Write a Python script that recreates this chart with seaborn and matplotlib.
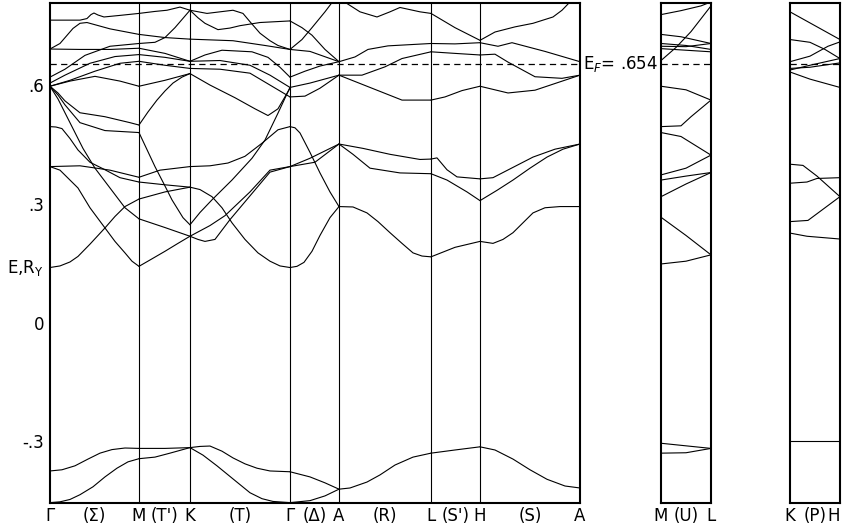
import matplotlib
matplotlib.use("Agg")
import matplotlib.pyplot as plt
import matplotlib.transforms as mtransforms
import pandas as pd
import seaborn as sns

# Symmetry points along the main path (k in path-length units)
main_k = [0, 89, 140, 240, 289, 381, 430, 530]
main_labels = ["Γ", "M", "K", "Γ", "A", "L", "H", "A"]
line_labels = ["(Σ)", "(T')", "(T)", "(Δ)", "(R)", "(S')", "(S)"]

side_k = [0, 50]
ml_labels = ["M", "(U)", "L"]
kh_labels = ["K", "(P)", "H"]

e_fermi = 0.654
y_ticks = [0.6, 0.3, 0.0, -0.3]
y_ticklabels = [".6", ".3", "0", "-.3"]

# Bands, one list of (k, E) per band, per segment
gamma_m = [
    [(0, 0.764), (30, 0.764), (37, 0.768), (41, 0.778), (44, 0.782), (48, 0.777), (54, 0.772), (70, 0.776), (89, 0.781)],
    [(0, 0.691), (10, 0.705), (23, 0.743), (30, 0.756), (37, 0.758), (60, 0.742), (89, 0.728)],
    [(0, 0.691), (30, 0.690), (60, 0.690), (89, 0.693)],
    [(0, 0.620), (15, 0.640), (35, 0.675), (60, 0.698), (89, 0.705)],
    [(0, 0.605), (15, 0.625), (40, 0.655), (65, 0.672), (89, 0.677)],
    [(0, 0.597), (20, 0.612), (45, 0.635), (70, 0.655), (89, 0.660)],
    [(0, 0.597), (20, 0.610), (45, 0.622), (70, 0.610), (89, 0.597)],
    [(0, 0.597), (8, 0.580), (15, 0.560), (30, 0.530), (55, 0.520), (80, 0.505), (89, 0.499)],
    [(0, 0.597), (8, 0.575), (15, 0.550), (30, 0.505), (55, 0.485), (89, 0.480)],
    [(0, 0.597), (8, 0.565), (15, 0.530), (25, 0.480), (33, 0.440), (45, 0.390), (60, 0.340), (75, 0.290), (89, 0.262)],
    [(0, 0.495), (6, 0.494), (12, 0.490), (20, 0.465), (28, 0.436), (40, 0.405), (55, 0.386), (70, 0.366), (89, 0.355)],
    [(0, 0.394), (30, 0.396), (60, 0.385), (89, 0.367)],
    [(0, 0.394), (10, 0.385), (20, 0.360), (28, 0.340), (40, 0.290), (55, 0.239), (65, 0.205), (75, 0.176), (82, 0.155), (89, 0.142)],
    [(0, 0.139), (10, 0.143), (20, 0.153), (28, 0.167), (40, 0.198), (55, 0.239), (65, 0.268), (75, 0.293), (89, 0.312)],
    [(0, -0.375), (12, -0.372), (25, -0.362), (38, -0.345), (50, -0.330), (62, -0.321), (75, -0.317), (89, -0.318)],
    [(0, -0.455), (10, -0.453), (20, -0.447), (30, -0.435), (43, -0.415), (55, -0.390), (67, -0.368), (78, -0.352), (89, -0.344)],
]

m_k = [
    [(89, 0.781), (105, 0.786), (117, 0.789), (130, 0.797), (140, 0.789)],
    [(89, 0.728), (115, 0.720), (140, 0.716)],
    [(89, 0.705), (105, 0.708), (115, 0.720), (125, 0.745), (140, 0.789)],
    [(89, 0.693), (115, 0.680), (140, 0.660)],
    [(89, 0.677), (115, 0.670), (140, 0.660)],
    [(89, 0.660), (115, 0.650), (140, 0.642)],
    [(89, 0.597), (115, 0.612), (140, 0.629)],
    [(89, 0.499), (98, 0.532), (107, 0.562), (115, 0.585), (123, 0.605), (132, 0.620), (140, 0.629)],
    [(89, 0.480), (97, 0.437), (105, 0.394), (114, 0.350), (122, 0.310), (133, 0.265), (140, 0.247)],
    [(89, 0.367), (110, 0.385), (140, 0.394)],
    [(89, 0.355), (115, 0.348), (140, 0.342)],
    [(89, 0.312), (115, 0.330), (140, 0.342)],
    [(89, 0.262), (115, 0.240), (140, 0.218)],
    [(89, 0.142), (100, 0.158), (115, 0.180), (128, 0.200), (140, 0.218)],
    [(89, -0.318), (115, -0.318), (140, -0.316)],
    [(89, -0.344), (105, -0.340), (120, -0.330), (140, -0.316)],
]

k_gamma = [
    [(140, 0.789), (157, 0.781), (170, 0.785), (183, 0.789), (193, 0.781), (200, 0.760), (210, 0.731), (220, 0.712), (228, 0.700), (240, 0.690)],
    [(140, 0.789), (148, 0.770), (155, 0.756), (168, 0.740), (180, 0.744), (190, 0.750), (210, 0.758), (240, 0.762)],
    [(140, 0.716), (183, 0.712), (215, 0.700), (240, 0.690)],
    [(140, 0.660), (155, 0.676), (172, 0.688), (202, 0.684), (218, 0.670), (230, 0.645), (240, 0.620)],
    [(140, 0.660), (170, 0.662), (200, 0.650), (220, 0.625), (240, 0.594)],
    [(140, 0.642), (170, 0.640), (200, 0.630), (220, 0.600), (240, 0.570)],
    [(140, 0.629), (160, 0.600), (185, 0.568), (205, 0.540), (218, 0.523), (228, 0.540), (240, 0.592)],
    [(140, 0.247), (150, 0.278), (162, 0.310), (182, 0.360), (202, 0.415), (215, 0.461), (228, 0.529), (240, 0.594)],
    [(140, 0.394), (160, 0.396), (178, 0.403), (195, 0.420), (212, 0.453), (228, 0.487), (240, 0.495)],
    [(140, 0.342), (150, 0.336), (162, 0.318), (172, 0.290), (182, 0.252), (195, 0.210), (208, 0.176), (220, 0.155), (230, 0.143), (240, 0.139)],
    [(140, 0.218), (148, 0.210), (155, 0.205), (165, 0.210), (180, 0.260), (200, 0.320), (220, 0.380), (240, 0.394)],
    [(140, 0.218), (160, 0.245), (175, 0.270), (200, 0.330), (220, 0.385), (240, 0.394)],
    [(140, -0.316), (150, -0.313), (160, -0.312), (172, -0.325), (183, -0.342), (195, -0.357), (207, -0.368), (220, -0.375), (240, -0.377)],
    [(140, -0.316), (153, -0.335), (167, -0.362), (183, -0.395), (200, -0.430), (212, -0.445), (223, -0.452), (240, -0.455)],
]

gamma_a = [
    [(240, 0.762), (252, 0.745), (262, 0.726), (275, 0.690), (289, 0.659)],
    [(240, 0.690), (252, 0.715), (262, 0.745), (275, 0.785), (284, 0.815)],
    [(240, 0.690), (260, 0.685), (289, 0.659)],
    [(240, 0.620), (255, 0.635), (270, 0.648), (289, 0.659)],
    [(240, 0.594), (260, 0.605), (289, 0.625)],
    [(240, 0.570), (255, 0.572), (270, 0.592), (289, 0.625)],
    [(240, 0.495), (245, 0.492), (250, 0.479), (260, 0.430), (270, 0.378), (280, 0.330), (289, 0.293)],
    [(240, 0.394), (265, 0.405), (289, 0.451)],
    [(240, 0.394), (260, 0.415), (289, 0.451)],
    [(240, 0.139), (247, 0.142), (254, 0.152), (262, 0.180), (270, 0.220), (280, 0.265), (289, 0.293)],
    [(240, -0.377), (260, -0.390), (275, -0.405), (289, -0.421)],
    [(240, -0.455), (260, -0.450), (275, -0.438), (289, -0.421)],
]

a_l = [
    [(289, 0.840), (297, 0.806), (310, 0.785), (327, 0.772), (340, 0.785), (350, 0.796), (370, 0.785), (381, 0.781)],
    [(289, 0.659), (305, 0.671), (318, 0.690), (338, 0.699), (381, 0.705)],
    [(289, 0.625), (312, 0.625), (335, 0.646), (352, 0.667), (381, 0.684)],
    [(289, 0.625), (318, 0.596), (352, 0.562), (381, 0.562)],
    [(289, 0.451), (313, 0.440), (340, 0.425), (370, 0.412), (381, 0.413)],
    [(289, 0.451), (303, 0.425), (320, 0.390), (350, 0.378), (381, 0.376)],
    [(289, 0.293), (303, 0.292), (317, 0.277), (328, 0.255), (340, 0.227), (352, 0.200), (363, 0.176), (372, 0.168), (381, 0.166)],
    [(289, -0.421), (300, -0.418), (317, -0.403), (330, -0.385), (345, -0.360), (363, -0.340), (381, -0.330)],
]

l_h = [
    [(381, 0.781), (405, 0.745), (430, 0.713)],
    [(381, 0.705), (405, 0.704), (430, 0.707)],
    [(381, 0.684), (405, 0.680), (430, 0.676)],
    [(381, 0.562), (395, 0.570), (412, 0.586), (430, 0.597)],
    [(381, 0.413), (387, 0.416), (397, 0.386), (407, 0.368), (430, 0.363)],
    [(381, 0.376), (397, 0.360), (417, 0.330), (430, 0.308)],
    [(381, 0.166), (405, 0.190), (430, 0.205)],
    [(381, -0.330), (405, -0.322), (430, -0.314)],
]

h_a = [
    [(430, 0.713), (445, 0.734), (465, 0.747), (483, 0.756), (503, 0.772), (512, 0.789), (520, 0.810)],
    [(430, 0.707), (448, 0.698), (462, 0.707), (495, 0.685), (530, 0.659)],
    [(430, 0.676), (445, 0.678), (458, 0.658), (485, 0.621), (512, 0.617), (530, 0.625)],
    [(430, 0.597), (458, 0.580), (485, 0.587), (530, 0.625)],
    [(430, 0.363), (443, 0.366), (463, 0.392), (483, 0.418), (505, 0.438), (530, 0.451)],
    [(430, 0.308), (447, 0.334), (463, 0.360), (480, 0.390), (497, 0.418), (513, 0.438), (530, 0.451)],
    [(430, 0.205), (443, 0.200), (453, 0.210), (463, 0.227), (473, 0.252), (483, 0.277), (495, 0.290), (510, 0.293), (530, 0.293)],
    [(430, -0.314), (445, -0.322), (463, -0.345), (480, -0.372), (497, -0.396), (515, -0.413), (530, -0.418)],
]

m_l = [
    [(0, 0.778), (20, 0.788), (40, 0.800), (50, 0.810)],
    [(0, 0.662), (15, 0.695), (30, 0.735), (50, 0.800)],
    [(0, 0.728), (20, 0.722), (50, 0.705)],
    [(0, 0.705), (25, 0.700), (50, 0.690)],
    [(0, 0.698), (25, 0.697), (50, 0.705)],
    [(0, 0.692), (25, 0.688), (50, 0.684)],
    [(0, 0.597), (25, 0.588), (50, 0.562)],
    [(0, 0.495), (20, 0.497), (30, 0.520), (50, 0.562)],
    [(0, 0.480), (20, 0.470), (50, 0.423)],
    [(0, 0.373), (25, 0.390), (50, 0.423)],
    [(0, 0.360), (25, 0.370), (50, 0.379)],
    [(0, 0.318), (25, 0.350), (50, 0.379)],
    [(0, 0.266), (25, 0.220), (50, 0.171)],
    [(0, 0.148), (25, 0.155), (50, 0.171)],
    [(0, -0.305), (50, -0.318)],
    [(0, -0.330), (25, -0.329), (50, -0.318)],
]

k_h = [
    [(0, 0.785), (25, 0.750), (50, 0.715)],
    [(0, 0.715), (20, 0.708), (35, 0.690), (50, 0.667)],
    [(0, 0.659), (20, 0.673), (38, 0.698), (50, 0.709)],
    [(0, 0.642), (20, 0.645), (50, 0.656)],
    [(0, 0.638), (20, 0.650), (50, 0.667)],
    [(0, 0.633), (20, 0.615), (50, 0.594)],
    [(0, 0.400), (13, 0.397), (27, 0.370), (50, 0.318)],
    [(0, 0.352), (17, 0.355), (27, 0.364), (50, 0.366)],
    [(0, 0.255), (18, 0.258), (50, 0.318)],
    [(0, 0.226), (17, 0.218), (50, 0.211)],
    [(0, -0.299), (50, -0.299)],
]


def to_frame(segments):
    rows = []
    for s, seg in enumerate(segments):
        for b, band in enumerate(seg):
            for k, e in band:
                rows.append({"k": k, "E": e, "band": f"{s}-{b}"})
    return pd.DataFrame(rows)


main_df = to_frame([gamma_m, m_k, k_gamma, gamma_a, a_l, l_h, h_a])
ml_df = to_frame([m_l])
kh_df = to_frame([k_h])

sns.set_style("white")
plt.rcParams["font.family"] = ["DejaVu Sans"]
plt.rcParams["axes.linewidth"] = 1.5
plt.rcParams["text.color"] = "black"
plt.rcParams["xtick.color"] = "black"
plt.rcParams["ytick.color"] = "black"

ylim = (-0.456, 0.807)
fig = plt.figure(figsize=(8.44, 5.29), dpi=100)
ax = fig.add_axes([0.0592, 0.0491, 0.628, 0.945])
ax_ml = fig.add_axes([0.7832, 0.0491, 0.0592, 0.945])
ax_kh = fig.add_axes([0.936, 0.0491, 0.0592, 0.945])

for a, df, kk in [(ax, main_df, main_k), (ax_ml, ml_df, side_k), (ax_kh, kh_df, side_k)]:
    sns.lineplot(data=df, x="k", y="E", units="band", estimator=None, sort=False,
                 color="black", lw=0.8, ax=a, legend=False)
    a.set_xlim(kk[0], kk[-1])
    a.set_ylim(*ylim)
    a.axhline(e_fermi, color="black", lw=0.9, ls=(0, (5, 3.5)))
    a.set_xlabel("")
    a.set_ylabel("")
    for side in a.spines.values():
        side.set_color("black")

# vertical lines at symmetry points
for k in main_k[1:-1]:
    ax.axvline(k, color="black", lw=0.8)

# x labels: points plus line names halfway between
mids = [(main_k[i] + main_k[i + 1]) / 2 for i in range(len(main_k) - 1)]
pos, labs = [], []
for i in range(len(main_k)):
    pos.append(main_k[i])
    labs.append(main_labels[i])
    if i < len(mids):
        pos.append(mids[i])
        labs.append(line_labels[i])
ax.set_xticks(pos)
ax.set_xticklabels(labs, fontsize=12, color="black")
ax.tick_params(axis="x", length=0, pad=3)

ax.set_yticks(y_ticks)
ax.set_yticklabels(y_ticklabels, fontsize=12, color="black")
ax.tick_params(axis="y", direction="in", length=5, width=1, pad=4)

trans = mtransforms.blended_transform_factory(ax.transAxes, ax.transData)
ax.text(-0.012, 0.139, "E,R$_\\mathrm{Y}$", transform=trans, ha="right", va="center", fontsize=12, color="black")
ax.text(1.005, e_fermi, "E$_F$= .654", transform=trans, ha="left", va="center", fontsize=12, color="black")

for a, labs_side in [(ax_ml, ml_labels), (ax_kh, kh_labels)]:
    a.set_xticks([0, 25, 50])
    a.set_xticklabels(labs_side, fontsize=12, color="black")
    a.tick_params(axis="x", length=0, pad=3)
    a.set_yticks([])

# keep the last "H" inside the canvas
ax_kh.get_xticklabels()[-1].set_horizontalalignment("right")

fig.savefig("out.png", dpi=100)
